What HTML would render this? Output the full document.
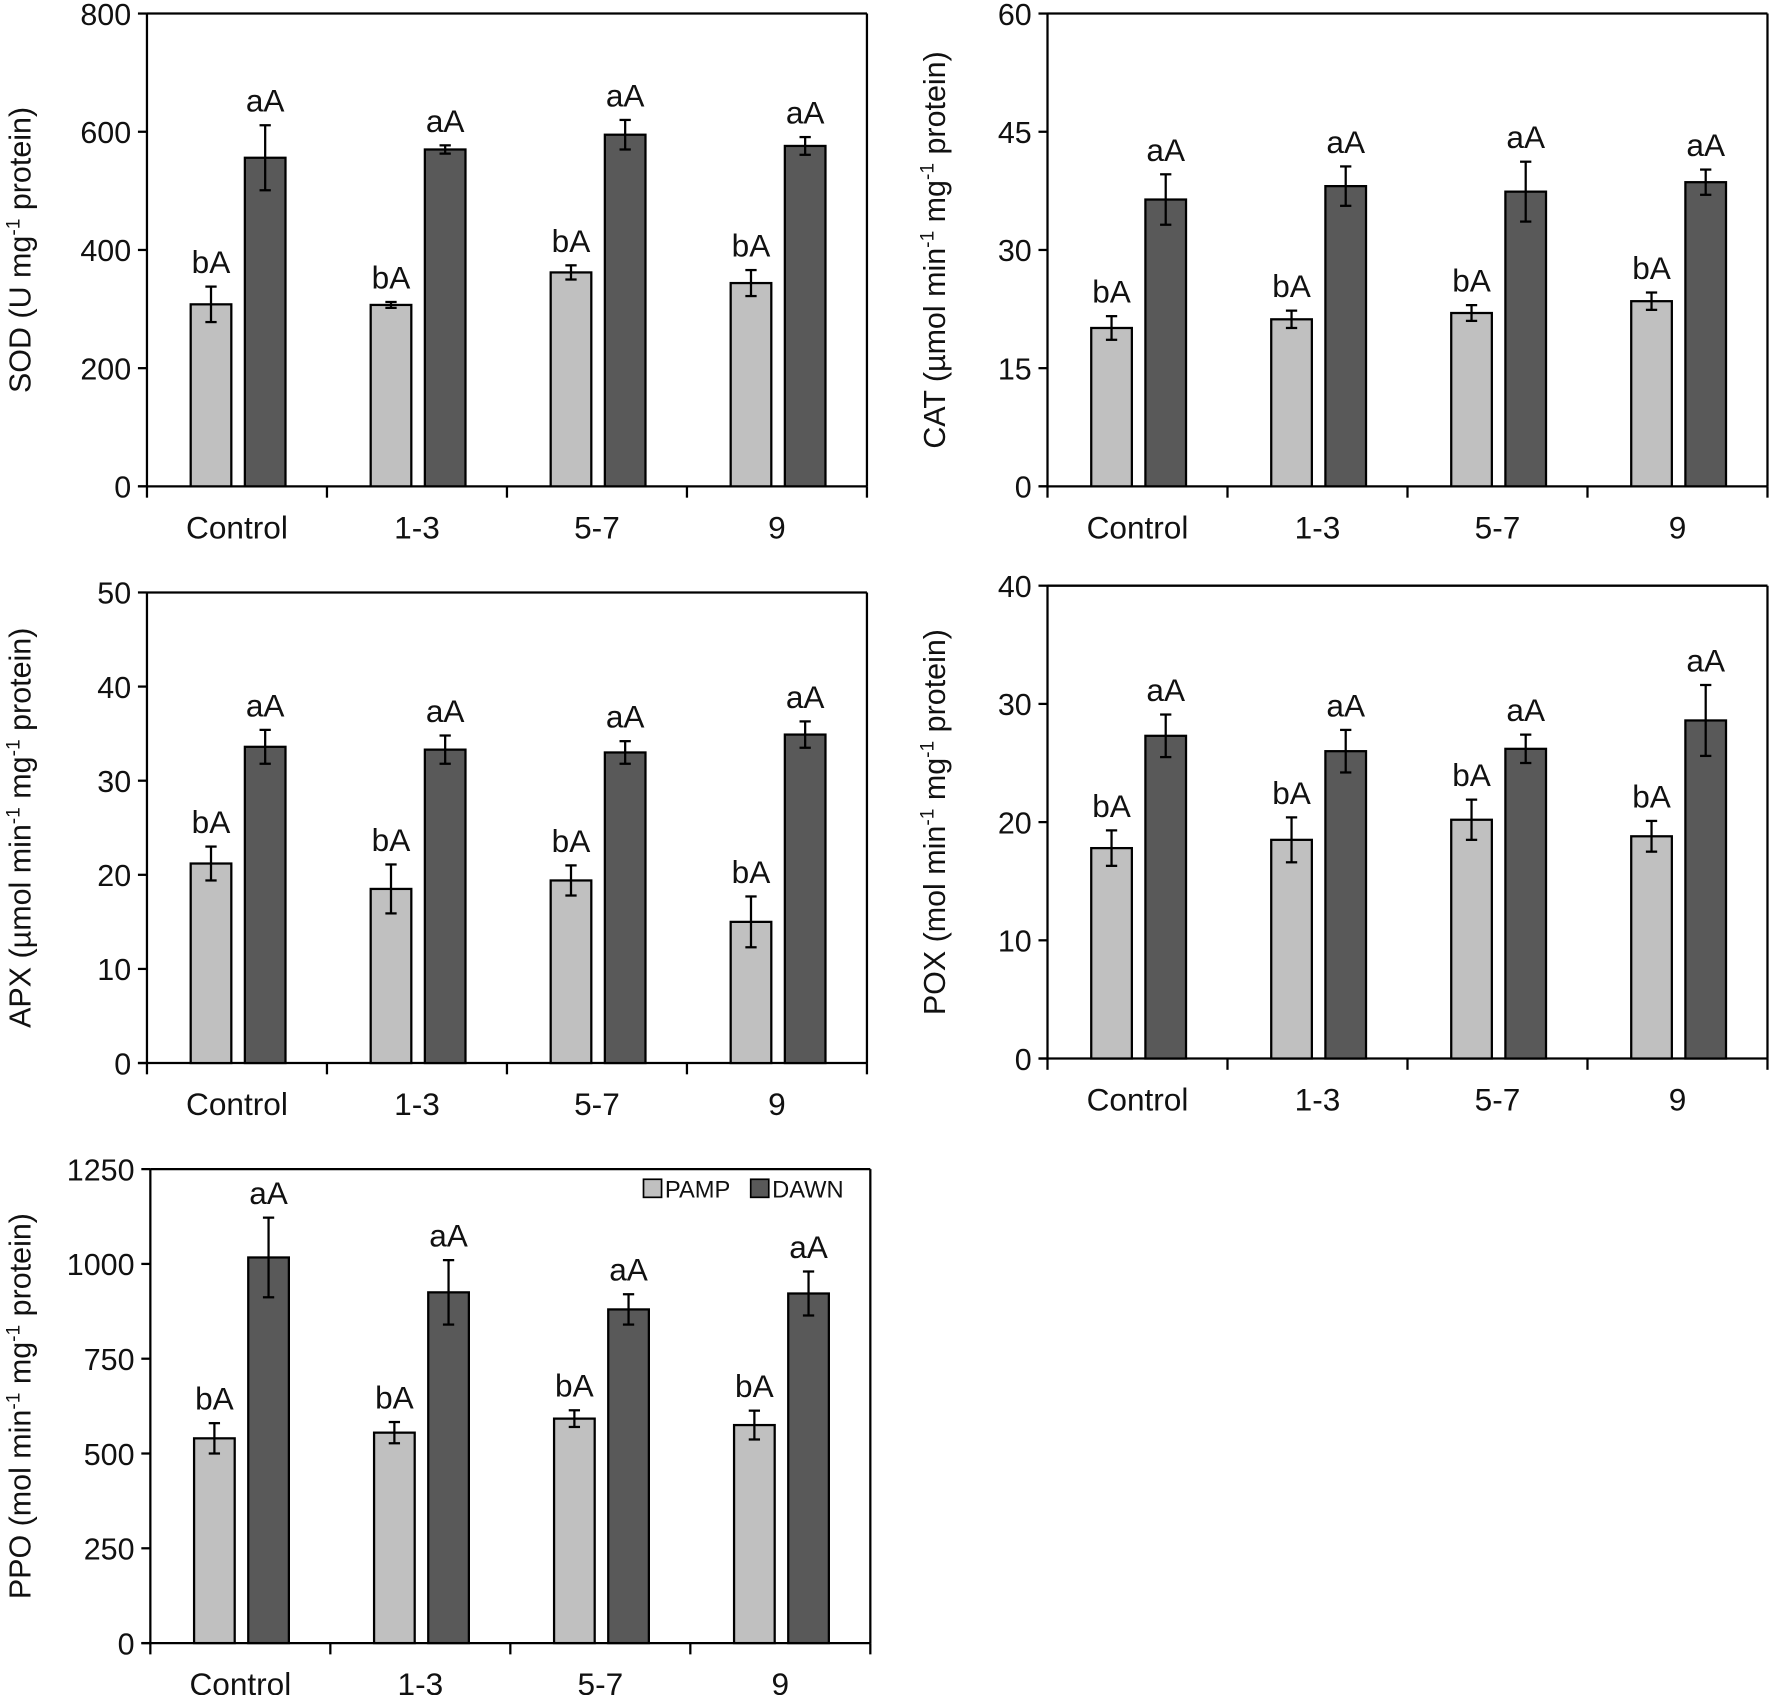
<!DOCTYPE html>
<html><head><meta charset="utf-8"><style>
html,body{margin:0;padding:0;background:#fff;}
svg{display:block;font-family:"Liberation Sans",Arial,sans-serif;}
</style></head><body>
<svg id="s" width="1770" height="1695" viewBox="0 0 1568 1502" xmlns="http://www.w3.org/2000/svg"></svg>
<script>
var s=document.getElementById('s');var h='';
function panel(o){
 var x0=o.x,top=o.top,bot=o.bot,x1=o.x+638,max=o.max;
 function Y(v){return bot-(v/max)*(bot-top);}
 h+='<line x1="'+x0+'" y1="'+top+'" x2="'+x0+'" y2="'+bot+'" stroke="#000" stroke-width="2"/>';
 h+='<line x1="'+x0+'" y1="'+top+'" x2="'+x1+'" y2="'+top+'" stroke="#000" stroke-width="2"/>';
 h+='<line x1="'+x1+'" y1="'+top+'" x2="'+x1+'" y2="'+bot+'" stroke="#000" stroke-width="2"/>';
 h+='<line x1="'+(x0-8)+'" y1="'+bot+'" x2="'+x1+'" y2="'+bot+'" stroke="#000" stroke-width="2"/>';
 for(var i=0;i<=o.n;i++){var v=max*i/o.n,y=Y(v);
  h+='<line x1="'+(x0-8)+'" y1="'+y+'" x2="'+x0+'" y2="'+y+'" stroke="#000" stroke-width="2"/>';
  h+='<text x="'+(x0-14)+'" y="'+(y+10)+'" font-size="27" text-anchor="end" fill="#111">'+Math.round(v)+'</text>';}
 var gw=638/4,cats=['Control','1-3','5-7','9'];
 for(var g=0;g<=4;g++){var tx=x0+g*gw;h+='<line x1="'+tx+'" y1="'+bot+'" x2="'+tx+'" y2="'+(bot+10)+'" stroke="#000" stroke-width="2"/>';}
 for(var g=0;g<4;g++){var c=x0+gw*g+gw/2;
  h+='<text x="'+c+'" y="'+(bot+46)+'" font-size="28" text-anchor="middle" fill="#111">'+cats[g]+'</text>';
  var bars=[[c-23,o.p[g],o.pe[g],'#c0c0c0','bA'],[c+25,o.d[g],o.de[g],'#595959','aA']];
  bars.forEach(function(b){var bx=b[0]-18,y=Y(b[1]);
   h+='<rect x="'+bx+'" y="'+y+'" width="36" height="'+(bot-y)+'" fill="'+b[3]+'" stroke="#000" stroke-width="2"/>';
   var ya=Y(b[1]+b[2]),yb=Y(b[1]-b[2]);
   h+='<line x1="'+b[0]+'" y1="'+ya+'" x2="'+b[0]+'" y2="'+yb+'" stroke="#000" stroke-width="2"/>';
   h+='<line x1="'+(b[0]-5)+'" y1="'+ya+'" x2="'+(b[0]+5)+'" y2="'+ya+'" stroke="#000" stroke-width="2"/>';
   h+='<line x1="'+(b[0]-5)+'" y1="'+yb+'" x2="'+(b[0]+5)+'" y2="'+yb+'" stroke="#000" stroke-width="2"/>';
   h+='<text x="'+b[0]+'" y="'+(ya-12)+'" font-size="28" text-anchor="middle" fill="#111">'+b[4]+'</text>';});
 }
 var cy=(top+bot)/2;
 h+='<text transform="translate('+o.lx+','+cy+') rotate(-90)" font-size="27" text-anchor="middle" fill="#111">'+o.lab+'</text>';
}
panel({x:130,top:12,bot:431,max:800,n:4,lx:27,lab:'SOD (U mg<tspan font-size="17" dy="-10">-1</tspan><tspan dy="10"> protein)</tspan>',
 p:[308,307,362,344],pe:[30,5,12,22],d:[556,570,595,576],de:[55,7,25,15]});
panel({x:928,top:12,bot:431,max:60,n:4,lx:837,lab:'CAT (µmol min<tspan font-size="17" dy="-10">-1</tspan><tspan dy="10"> mg</tspan><tspan font-size="17" dy="-10">-1</tspan><tspan dy="10"> protein)</tspan>',
 p:[20.1,21.2,22.0,23.5],pe:[1.5,1.1,1.0,1.1],d:[36.4,38.1,37.4,38.6],de:[3.2,2.5,3.8,1.6]});
panel({x:130,top:525,bot:942,max:50,n:5,lx:27,lab:'APX (µmol min<tspan font-size="17" dy="-10">-1</tspan><tspan dy="10"> mg</tspan><tspan font-size="17" dy="-10">-1</tspan><tspan dy="10"> protein)</tspan>',
 p:[21.2,18.5,19.4,15.0],pe:[1.8,2.6,1.6,2.7],d:[33.6,33.3,33.0,34.9],de:[1.8,1.5,1.2,1.4]});
panel({x:928,top:519,bot:938,max:40,n:4,lx:837,lab:'POX (mol min<tspan font-size="17" dy="-10">-1</tspan><tspan dy="10"> mg</tspan><tspan font-size="17" dy="-10">-1</tspan><tspan dy="10"> protein)</tspan>',
 p:[17.8,18.5,20.2,18.8],pe:[1.5,1.9,1.7,1.3],d:[27.3,26.0,26.2,28.6],de:[1.8,1.8,1.2,3.0]});
panel({x:133,top:1036,bot:1456,max:1250,n:5,lx:27,lab:'PPO (mol min<tspan font-size="17" dy="-10">-1</tspan><tspan dy="10"> mg</tspan><tspan font-size="17" dy="-10">-1</tspan><tspan dy="10"> protein)</tspan>',
 p:[540,555,592,575],pe:[40,28,22,38],d:[1017,925,880,922],de:[105,85,40,58]});
h+='<rect x="570" y="1045" width="16" height="16" fill="#c0c0c0" stroke="#000" stroke-width="1.5"/>';
h+='<text x="589" y="1061" font-size="21" fill="#111">PAMP</text>';
h+='<rect x="665" y="1045" width="16" height="16" fill="#595959" stroke="#000" stroke-width="1.5"/>';
h+='<text x="684" y="1061" font-size="21" fill="#111">DAWN</text>';
s.innerHTML=h;
</script>
</body></html>
